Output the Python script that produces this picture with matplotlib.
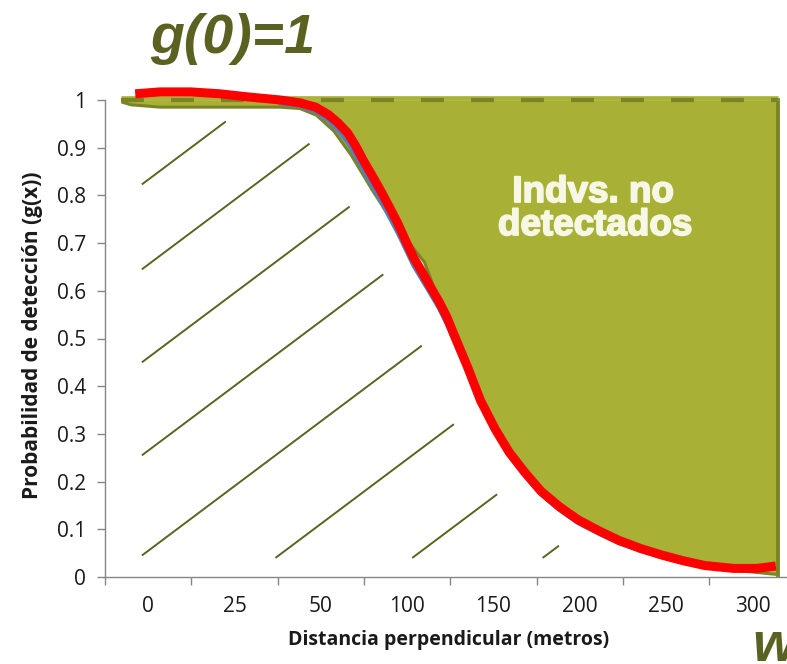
import numpy as np
import matplotlib
matplotlib.use("Agg")
import matplotlib.pyplot as plt
import matplotlib.patheffects as pe

# ---------------- data ----------------
categories = ["0", "25", "50", "100", "150", "200", "250", "300"]
y_ticks = [0, 0.1, 0.2, 0.3, 0.4, 0.5, 0.6, 0.7, 0.8, 0.9, 1.0]
y_tick_labels = ["0", "0.1", "0.2", "0.3", "0.4", "0.5", "0.6", "0.7", "0.8", "0.9", "1"]

# hand-drawn detection curve (x in category-index units)
red_x = [-0.15, 0.14, 0.49, 0.83, 1.18, 1.53, 1.76, 1.94, 2.09, 2.20, 2.31, 2.40,
         2.49, 2.59, 2.69, 2.79, 2.89, 2.98, 3.07, 3.17, 3.27, 3.37, 3.46, 3.55,
         3.70, 3.85, 4.02, 4.18, 4.36, 4.55, 4.76, 4.98, 5.22, 5.45, 5.70, 5.95,
         6.20, 6.45, 6.78, 7.05, 7.27]
red_g = [1.013, 1.017, 1.017, 1.013, 1.006, 1.000, 0.994, 0.985, 0.969, 0.952, 0.931, 0.905,
         0.874, 0.843, 0.811, 0.777, 0.742, 0.706, 0.671, 0.640, 0.608, 0.577, 0.545, 0.505,
         0.440, 0.370, 0.310, 0.262, 0.220, 0.180, 0.148, 0.120, 0.097, 0.077, 0.060, 0.046,
         0.034, 0.024, 0.018, 0.018, 0.023]

# fitted curve (blue, mostly hidden under the red one)
blue_x = [1.53, 1.76, 1.94, 2.09, 2.20, 2.31, 2.40, 2.49, 2.59, 2.69,
          2.79, 2.89, 2.98, 3.07, 3.17, 3.27, 3.37, 3.46, 3.55, 3.70, 3.85, 4.02,
          4.18, 4.36, 4.55, 4.76, 4.98, 5.22, 5.45, 5.70, 5.95, 6.20, 6.45, 6.78, 7.05]
blue_g = [0.992, 0.986, 0.975, 0.955, 0.935, 0.910, 0.882, 0.852, 0.820, 0.788,
          0.754, 0.720, 0.686, 0.652, 0.622, 0.592, 0.561, 0.528, 0.490, 0.428, 0.360, 0.302,
          0.254, 0.212, 0.172, 0.140, 0.112, 0.090, 0.070, 0.055, 0.041, 0.030, 0.020, 0.015, 0.015]

# lower edge of the "not detected" area
fill_x = [-0.31, -0.20, 0.14, 1.53, 1.76, 1.95, 2.15, 2.35, 2.60, 2.85, 3.20, 3.45,
          3.85, 4.18, 4.55, 4.98, 5.45, 5.95, 6.45, 6.86, 7.30]
fill_lo = [0.996, 0.990, 0.985, 0.985, 0.982, 0.968, 0.935, 0.885, 0.810, 0.740, 0.660, 0.540,
           0.365, 0.258, 0.176, 0.115, 0.073, 0.042, 0.020, 0.013, 0.005]
fill_top = 1.0

# hatch decoration: intercepts of the parallel strokes (value at x = -0.073)
hatch_c = [0.823, 0.645, 0.450, 0.255, 0.045, -0.170, -0.385, -0.590]

# ---------------- style ----------------
FILL = "#a8b035"
DARK = "#7a8427"
TITLE_C = "#5b6120"
HATCH_C = "#5c6321"
RED = "#ff0000"
BLUE = "#4f81bd"
AX_C = "#868686"
TXT_C = "#1a1a1a"
TICK_FONT = "Open Sans"

fig = plt.figure(figsize=(7.87, 6.64), dpi=100)
ax = fig.add_axes([105 / 787, 87 / 664, 682 / 787, 477 / 664])
ax.set_xlim(-0.5, 7.40)
ax.set_ylim(0, 1.0)

# area of non-detected individuals
ax.fill_between(fill_x, fill_lo, fill_top, color=FILL, lw=0, zorder=2, clip_on=False)
ax.plot(fill_x, fill_lo, color=DARK, lw=2.2, zorder=3, clip_on=False, solid_capstyle="butt")
ax.plot([fill_x[-1], fill_x[-1]], [fill_lo[-1], fill_top], color=DARK, lw=2.8, zorder=3,
        clip_on=False)
ax.plot([fill_x[0], fill_x[-1]], [fill_top + 0.004, fill_top + 0.004], color="#a9b337",
        lw=3.4, zorder=3, clip_on=False, solid_capstyle="butt")
ax.plot([fill_x[0], fill_x[-1]], [fill_top, fill_top], color=DARK, lw=3.0, zorder=3,
        clip_on=False, dashes=(5.5, 6.5), dash_capstyle="butt")

# hatch lines under the curve (decoration)
slope = 0.1357
x0 = -0.073
xs_dense = np.linspace(red_x[0], red_x[-1], 800)
curve_dense = np.interp(xs_dense, red_x, red_g)
for c in hatch_c:
    xa = x0 if c >= 0.04 else x0 + (0.04 - c) / slope
    line = c + slope * (xs_dense - x0)
    idx = np.where((line >= curve_dense) & (xs_dense > xa))[0]
    xcross = xs_dense[idx[0]] if len(idx) else red_x[-1]
    xb = xcross - 0.33
    xb = min(xb, x0 + (0.955 - c) / slope)
    if xb > xa:
        ax.plot([xa, xb], [c + slope * (xa - x0), c + slope * (xb - x0)],
                color=HATCH_C, lw=1.4, zorder=4, solid_capstyle="butt")

# curves
ax.plot(blue_x, blue_g, color=BLUE, lw=2.4, zorder=5, clip_on=False)
ax.plot(red_x, red_g, color=RED, lw=6.5, zorder=6, clip_on=False,
        solid_capstyle="butt", solid_joinstyle="round")

# axes
for s in ["top", "right"]:
    ax.spines[s].set_visible(False)
for s in ["left", "bottom"]:
    ax.spines[s].set_color(AX_C)
    ax.spines[s].set_linewidth(1.0)

ax.set_yticks(y_ticks)
ax.set_yticklabels(y_tick_labels)
ax.tick_params(axis="y", direction="out", length=5.5, width=1.0, color=AX_C,
               labelsize=15, pad=8, labelcolor=TXT_C)
ax.set_xticks(np.arange(-0.5, 7.0, 1.0))
ax.set_xticklabels([])
ax.set_xticks(np.arange(len(categories)), minor=True)
ax.set_xticklabels(categories, minor=True)
ax.tick_params(axis="x", which="major", direction="out", length=5.5, width=1.0, color=AX_C)
ax.tick_params(axis="x", which="minor", length=0, labelsize=15, pad=14, labelcolor=TXT_C)
for lab in ax.get_xticklabels(minor=True) + ax.get_yticklabels():
    lab.set_family(TICK_FONT)

fig.text(33 / 787, (664 - 335) / 664, "Probabilidad de detección (g(x))", rotation=90,
         ha="center", va="center", fontsize=15, fontweight="bold", family=TICK_FONT,
         color=TXT_C)
fig.text(449 / 787, (664 - 640) / 664, "Distancia perpendicular (metros)",
         ha="center", va="center", fontsize=14, fontweight="bold", family=TICK_FONT,
         color=TXT_C)

# annotations
fig.text(150 / 787, 1 - 53 / 664, "g(0)=1", ha="left", va="baseline", fontsize=40,
         fontweight="bold", style="italic", family="Liberation Sans", color=TITLE_C)
fig.text(752 / 787, 1 - 661 / 664, "w", ha="left", va="baseline", fontsize=40,
         fontweight="bold", style="italic", family="Liberation Sans", color=TITLE_C)
stroke = [pe.withStroke(linewidth=1.3, foreground="#f7f7e6")]
fig.text(593 / 787, 1 - 202 / 664, "Indvs. no", ha="center", va="baseline", fontsize=26.5,
         fontweight="bold", family="Liberation Sans", color="#f7f7e6", path_effects=stroke)
fig.text(595 / 787, 1 - 235 / 664, "detectados", ha="center", va="baseline", fontsize=26.5,
         fontweight="bold", family="Liberation Sans", color="#f7f7e6", path_effects=stroke)

fig.savefig("out.png", dpi=100, facecolor="white")
